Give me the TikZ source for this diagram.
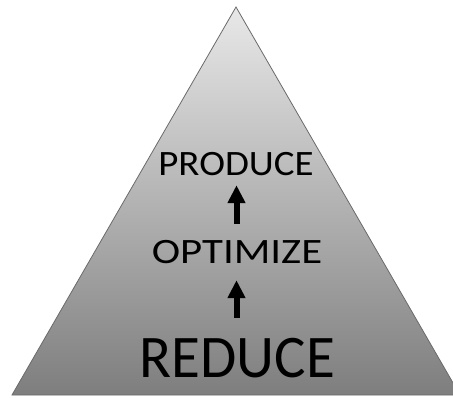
\documentclass[tikz,border=0pt]{standalone}
\usepackage{fontspec}
\setmainfont{Carlito}
\usetikzlibrary{arrows.meta}
\definecolor{topgray}{HTML}{E8E8E8}
\definecolor{botgray}{HTML}{7E7E7E}
\definecolor{edgegray}{HTML}{6A6A6A}
\tikzset{
  word/.style={inner sep=0pt, text height=#1, text depth=0pt, anchor=center},
  uparrow/.style={line width=6pt, -{Triangle[width=17pt,length=18pt]}},
}
\begin{document}
\begin{tikzpicture}[x=1pt,y=1pt]
\useasboundingbox (0,0) rectangle (453,-397);
\clip (0,0) rectangle (453,-397);
\draw[edgegray, line width=0.8pt, top color=topgray, bottom color=botgray]
  (236,-7) -- (460,-395) -- (12,-395) -- cycle;
\node[word=23pt, xscale=1.09, font=\fontsize{35.7}{40}\selectfont] (produce) at (236,-163.5) {PRODUCE};
\node[word=23pt, xscale=1.2, font=\fontsize{35.7}{40}\selectfont] (optimize) at (237,-251.5) {OPTIMIZE};
\node[word=39pt, xscale=0.975, font=\fontsize{60.5}{66}\selectfont] (reduce) at (237.5,-357.5) {REDUCE};
\draw[uparrow, shorten <=20pt, shorten >=17pt] (reduce.north -| 236.5,0) -- (optimize.south -| 236.5,0);
\draw[uparrow, shorten <=16pt, shorten >=10pt] (optimize.north -| 236.5,0) -- (produce.south -| 236.5,0);
\end{tikzpicture}
\end{document}
